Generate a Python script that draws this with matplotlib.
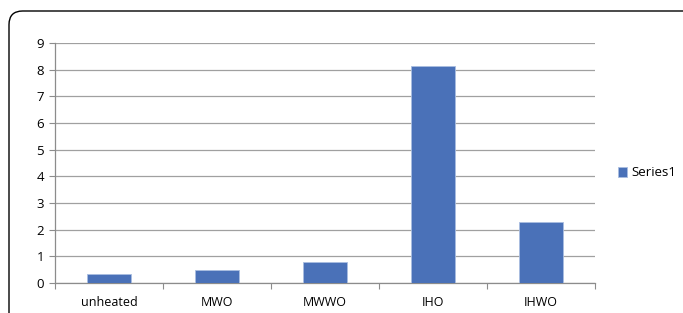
import matplotlib
matplotlib.use("Agg")
import matplotlib.pyplot as plt
from matplotlib.patches import FancyBboxPatch

categories = ["unheated", "MWO", "MWWO", "IHO", "IHWO"]
values = [0.35, 0.49, 0.78, 8.12, 2.29]
series_name = "Series1"
yticks = list(range(0, 10))

plt.rcParams['font.family'] = ['Open Sans', 'DejaVu Sans']

fig = plt.figure(figsize=(6.83, 3.13), dpi=100)
fig.patch.set_facecolor('white')

frame = FancyBboxPatch((9/683, -0.2), 1.2, 1 - 11/313 + 0.2,
                       boxstyle="round,pad=0,rounding_size=0.02",
                       transform=fig.transFigure, fill=False,
                       edgecolor='black', linewidth=1.0, mutation_aspect=683/313)
fig.patches.append(frame)

ax = fig.add_axes([55/683, 1 - 283/313, (595 - 55)/683, (283 - 43)/313])
x = list(range(len(categories)))
ax.bar(x, values, width=0.4, color='#4a71b8', edgecolor='#a9bde0', linewidth=0.6,
       label=series_name, zorder=3)
ax.set_xlim(-0.5, len(categories) - 0.5)
ax.set_ylim(0, 9)
ax.set_yticks(yticks)
ax.set_yticklabels([str(t) for t in yticks], fontsize=9.5)
ax.set_xticks(x)
ax.set_xticklabels(categories, fontsize=9)
ax.set_xticks([i - 0.5 for i in range(len(categories) + 1)], minor=True)
ax.tick_params(axis='x', which='major', length=0, pad=9)
ax.tick_params(axis='x', which='minor', length=4, color='#8c8c8c', width=0.8)
ax.tick_params(axis='y', length=4, color='#8c8c8c', width=0.8, pad=4)
ax.grid(axis='y', color='#a0a0a0', linewidth=0.9, zorder=0)
for s in ['top', 'right']:
    ax.spines[s].set_visible(False)
for s in ['left', 'bottom']:
    ax.spines[s].set_color('#8c8c8c')
    ax.spines[s].set_linewidth(0.9)

leg = fig.legend(loc='center left', bbox_to_anchor=(618/683, 1 - 173/313), frameon=False,
                 fontsize=9.5, handlelength=0.7, handleheight=0.7, handletextpad=0.3,
                 borderpad=0, borderaxespad=0)

fig.savefig("out.png", dpi=100)
